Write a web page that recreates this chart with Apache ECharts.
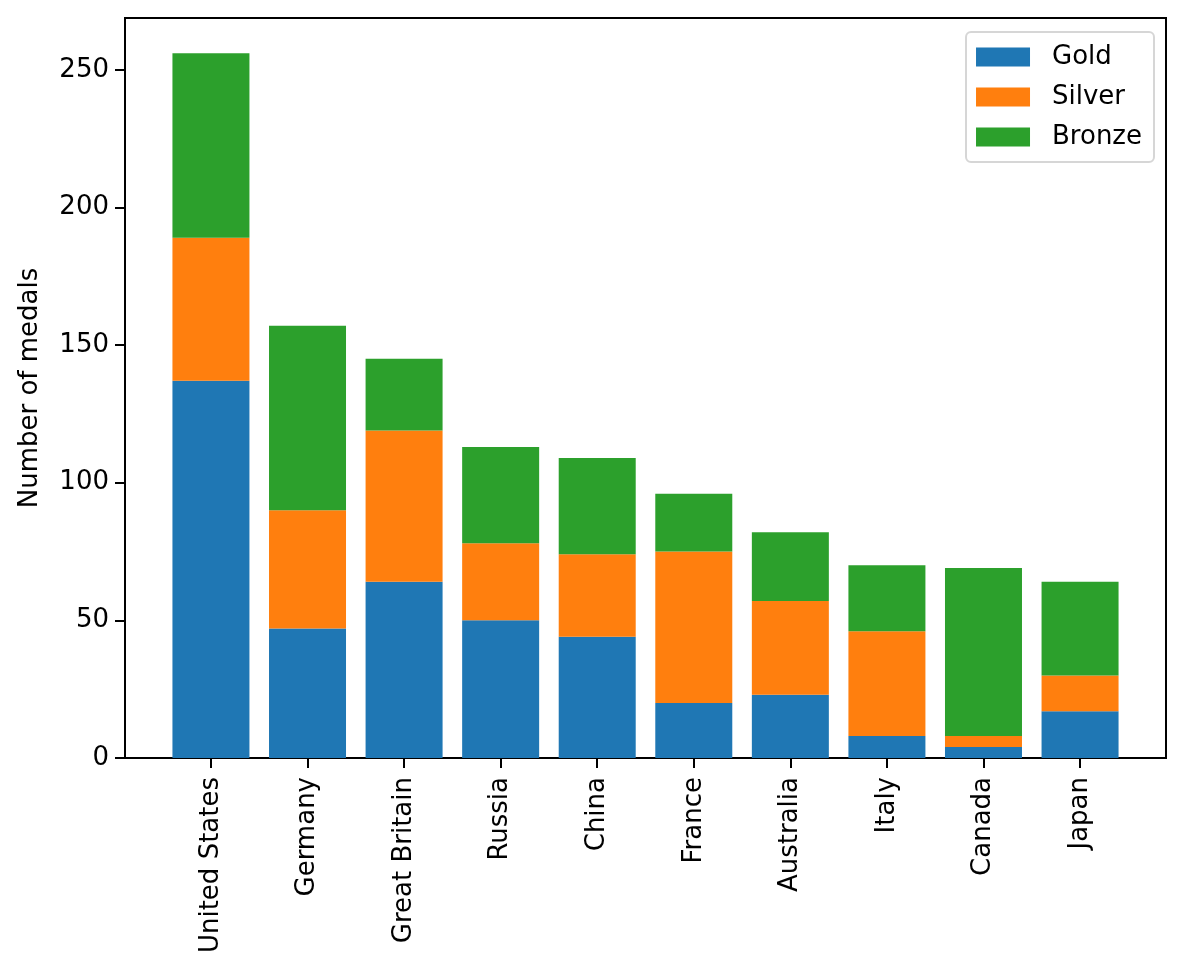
<!DOCTYPE html>
<html>
<head>
    <meta charset="utf-8">
    <title>Medals</title>
    <script src="https://cdn.jsdelivr.net/npm/echarts@6/dist/echarts.min.js"></script>
    <style>
        html, body { margin: 0; padding: 0; background: #fff; }
        #main { width: 1186px; height: 976px; }
    </style>
</head>
<body>
<div id="main"></div>
<script type="text/javascript">
    // medal counts per country
    var countries = ['United States', 'Germany', 'Great Britain', 'Russia', 'China',
        'France', 'Australia', 'Italy', 'Canada', 'Japan'];
    var gold = [137, 47, 64, 50, 44, 20, 23, 8, 4, 17];
    var silver = [52, 43, 55, 28, 30, 55, 34, 38, 4, 13];
    var bronze = [67, 67, 26, 35, 35, 21, 25, 24, 61, 34];
    var yTicks = [0, 50, 100, 150, 200, 250];
    var xTicks = countries.map(function (c, i) { return i; });

    var font = 'DejaVu Sans';
    var chart = echarts.init(document.getElementById('main'));

    // value first so the stack is done on the y dimension
    function stackSeries(name, values, color) {
        return {
            name: name,
            type: 'bar',
            stack: 'medals',
            barWidth: 77,
            encode: { x: 1, y: 0 },
            itemStyle: { color: color, borderWidth: 0 },
            data: values.map(function (v, i) { return [v, i]; })
        };
    }

    var option = {
        animation: false,
        textStyle: { fontFamily: font },
        grid: {
            left: 125, right: 20, top: 18, bottom: 218,
            show: true,
            borderColor: '#000',
            borderWidth: 2,
            backgroundColor: 'transparent'
        },
        legend: {
            orient: 'vertical',
            right: 32,
            top: 32,
            itemWidth: 54,
            itemHeight: 19,
            itemGap: 14,
            padding: [12, 12, 12, 10],
            borderColor: '#d6d6d6',
            borderWidth: 2,
            borderRadius: 5,
            icon: 'rect',
            textStyle: { fontSize: 26, color: '#000', fontFamily: font, padding: [0, 0, 0, 17] },
            data: ['Gold', 'Silver', 'Bronze']
        },
        xAxis: {
            type: 'value',
            min: -0.89,
            max: 9.89,
            axisLine: { lineStyle: { color: '#000', width: 2 } },
            axisTick: { customValues: xTicks, length: 10, lineStyle: { color: '#000', width: 2 } },
            axisLabel: {
                customValues: xTicks,
                rotate: 90,
                margin: 19,
                fontSize: 26,
                color: '#000',
                fontFamily: font,
                formatter: function (v) { return countries[Math.round(v)]; }
            },
            splitLine: { show: false }
        },
        yAxis: {
            type: 'value',
            min: 0,
            max: 268.8,
            interval: 50,
            name: 'Number of medals',
            nameLocation: 'middle',
            nameGap: 82,
            nameTextStyle: { fontSize: 26, color: '#000', fontFamily: font },
            axisLine: { show: true, onZero: false, lineStyle: { color: '#000', width: 2 } },
            axisTick: { show: true, customValues: yTicks, length: 10, lineStyle: { color: '#000', width: 2 } },
            axisLabel: {
                customValues: yTicks,
                margin: 16,
                fontSize: 26,
                color: '#000',
                fontFamily: font
            },
            splitLine: { show: false }
        },
        series: [
            stackSeries('Gold', gold, '#1f77b4'),
            stackSeries('Silver', silver, '#ff7f0e'),
            stackSeries('Bronze', bronze, '#2ca02c')
        ]
    };

    chart.setOption(option);
</script>
</body>
</html>
